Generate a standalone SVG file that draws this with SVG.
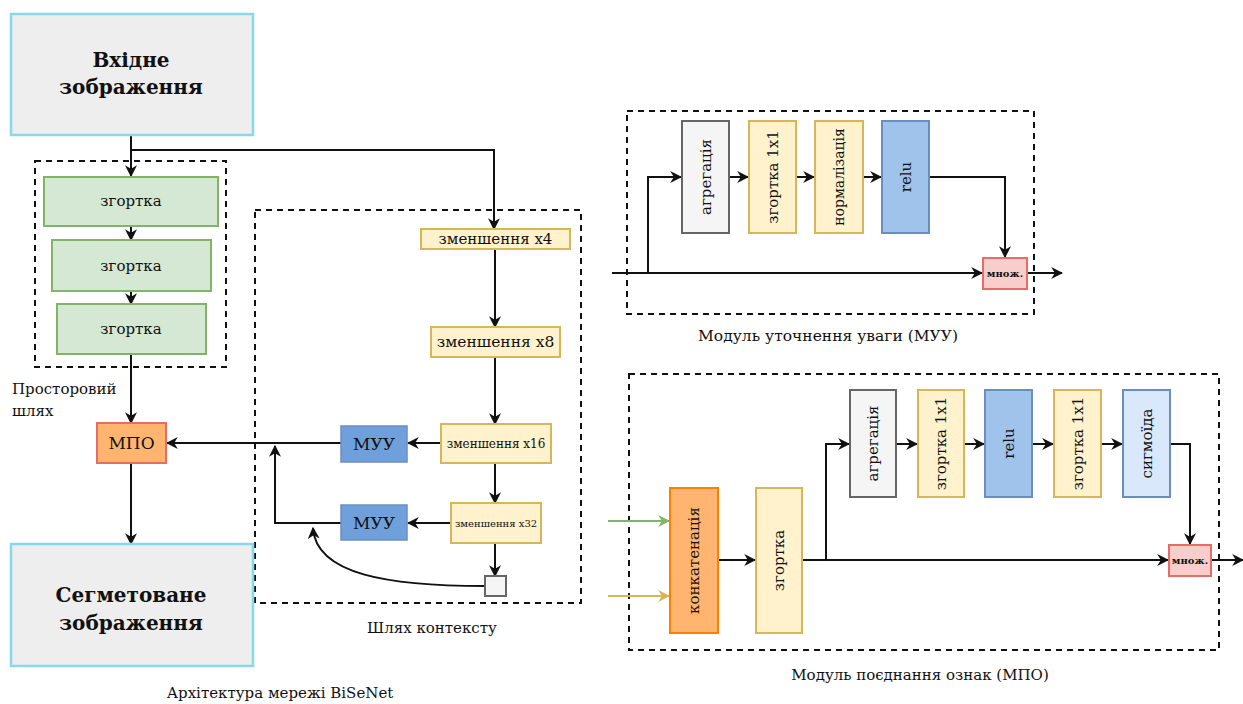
<svg xmlns="http://www.w3.org/2000/svg" width="1243" height="704" viewBox="0 0 1243 704" font-family="'DejaVu Serif','Liberation Serif',serif">
<defs>
<style>
text{font-family:'DejaVu Serif','Liberation Serif',serif;fill:#111;}
.big{font-size:20px;font-weight:bold;text-anchor:middle;}
.lbl{font-size:15px;}
.c{text-anchor:middle;dominant-baseline:central;}
.io{fill:#eeeeee;stroke:#86d8ea;stroke-width:2.5;}
.green{fill:#d5e8d4;stroke:#82b366;stroke-width:2;}
.yel{fill:#fff2cc;stroke:#d6b656;stroke-width:2;}
.grey{fill:#f5f5f5;stroke:#666666;stroke-width:2;}
.blue{fill:#6fa0dc;stroke:#6c8ebf;stroke-width:1.5;}
.lblue{fill:#a0c3ec;stroke:#6c8ebf;stroke-width:2;}
.vlblue{fill:#dae8fc;stroke:#6c8ebf;stroke-width:2;}
.mpo{fill:#ffb570;stroke:#ea6b66;stroke-width:2;}
.orange{fill:#ffb570;stroke:#ff8000;stroke-width:2;}
.mul{fill:#f8cecc;stroke:#ea6b66;stroke-width:2;}
.dash{fill:none;stroke:#111;stroke-width:2;stroke-dasharray:6,5;}
.ln{fill:none;stroke:#111;stroke-width:2;}
</style>
<marker id="ahb" viewBox="0 0 10 10" refX="9" refY="5" markerWidth="12" markerHeight="12" orient="auto" markerUnits="userSpaceOnUse">
<path d="M0,0 L10,5 L0,10 L3,5 z" fill="#111"/>
</marker>
<marker id="ahg" viewBox="0 0 10 10" refX="9" refY="5" markerWidth="12" markerHeight="12" orient="auto" markerUnits="userSpaceOnUse">
<path d="M0,0 L10,5 L0,10 L3,5 z" fill="#82b366"/>
</marker>
<marker id="ahy" viewBox="0 0 10 10" refX="9" refY="5" markerWidth="12" markerHeight="12" orient="auto" markerUnits="userSpaceOnUse">
<path d="M0,0 L10,5 L0,10 L3,5 z" fill="#d6b656"/>
</marker>
</defs>
<rect width="1243" height="704" fill="#ffffff"/>

<g id="containers">
<rect class="dash" x="35" y="161" width="191" height="206"/>
<rect class="dash" x="255" y="210" width="326" height="393"/>
<rect class="dash" x="627" y="111" width="407" height="203"/>
<rect class="dash" x="629" y="374" width="590" height="276"/>
</g>

<g id="connectors">
<path class="ln" d="M131,135 V176" marker-end="url(#ahb)"/>
<path class="ln" d="M131,150 H494 V229" marker-end="url(#ahb)"/>
<path class="ln" d="M131,226 V240" marker-end="url(#ahb)"/>
<path class="ln" d="M131,291 V304" marker-end="url(#ahb)"/>
<path class="ln" d="M131,354 V423" marker-end="url(#ahb)"/>
<path class="ln" d="M131,463 V544" marker-end="url(#ahb)"/>
<path class="ln" d="M341,443 H167" marker-end="url(#ahb)"/>
<path class="ln" d="M495,249 V327" marker-end="url(#ahb)"/>
<path class="ln" d="M495,357 V424" marker-end="url(#ahb)"/>
<path class="ln" d="M441,443 H408" marker-end="url(#ahb)"/>
<path class="ln" d="M495,463 V503" marker-end="url(#ahb)"/>
<path class="ln" d="M451,523 H408" marker-end="url(#ahb)"/>
<path class="ln" d="M341,523 H275 V446" marker-end="url(#ahb)"/>
<path class="ln" d="M495,543 V576" marker-end="url(#ahb)"/>
<path class="ln" d="M485,586 C390,586 316,575 313,528" marker-end="url(#ahb)"/>
<path class="ln" d="M612,273 H982" marker-end="url(#ahb)"/>
<path class="ln" d="M648,273 V177 H681" marker-end="url(#ahb)"/>
<path class="ln" d="M729,177 H748" marker-end="url(#ahb)"/>
<path class="ln" d="M796,177 H814" marker-end="url(#ahb)"/>
<path class="ln" d="M863,177 H881" marker-end="url(#ahb)"/>
<path class="ln" d="M929,177 H1005 V257" marker-end="url(#ahb)"/>
<path class="ln" d="M1027,273 H1062" marker-end="url(#ahb)"/>
<path d="M608,521 H669" fill="none" stroke="#82b366" stroke-width="2" marker-end="url(#ahg)"/>
<path d="M608,596 H669" fill="none" stroke="#d6b656" stroke-width="2" marker-end="url(#ahy)"/>
<path class="ln" d="M718,560 H755" marker-end="url(#ahb)"/>
<path class="ln" d="M802,560 H1168" marker-end="url(#ahb)"/>
<path class="ln" d="M826,560 V444 H849" marker-end="url(#ahb)"/>
<path class="ln" d="M896,444 H917" marker-end="url(#ahb)"/>
<path class="ln" d="M964,444 H984" marker-end="url(#ahb)"/>
<path class="ln" d="M1032,444 H1053" marker-end="url(#ahb)"/>
<path class="ln" d="M1101,444 H1122" marker-end="url(#ahb)"/>
<path class="ln" d="M1170,444 H1190 V544" marker-end="url(#ahb)"/>
<path class="ln" d="M1211,560 H1243" marker-end="url(#ahb)"/>
</g>

<g id="input">
<rect class="io" x="11" y="14" width="242" height="121"/>
<text class="big" x="131" y="67">Вхідне</text>
<text class="big" x="131" y="94">зображення</text>
</g>
<g id="conv1"><rect class="green" x="44" y="177" width="174" height="49"/><text class="lbl c" x="131" y="201">згортка</text></g>
<g id="conv2"><rect class="green" x="52" y="240" width="159" height="51"/><text class="lbl c" x="131" y="266">згортка</text></g>
<g id="conv3"><rect class="green" x="57" y="304" width="149" height="50"/><text class="lbl c" x="131" y="329">згортка</text></g>
<g id="spatial-label">
<text class="lbl" x="12" y="394">Просторовий</text>
<text class="lbl" x="12" y="416">шлях</text>
</g>
<g id="mpo"><rect class="mpo" x="97" y="423" width="69" height="40"/><text class="c" x="131.5" y="443" style="font-size:17px">МПО</text></g>
<g id="output">
<rect class="io" x="11" y="544" width="242" height="122"/>
<text class="big" x="131" y="602">Сегметоване</text>
<text class="big" x="131" y="630">зображення</text>
</g>

<g id="down4"><rect class="yel" x="421" y="229" width="149" height="20"/><text class="c" x="495.5" y="239" style="font-size:15px">зменшення x4</text></g>
<g id="down8"><rect class="yel" x="431" y="327" width="129" height="30"/><text class="c" x="495.5" y="342" style="font-size:15.5px">зменшення x8</text></g>
<g id="down16"><rect class="yel" x="441" y="424" width="110" height="39"/><text class="c" x="496" y="443.5" style="font-size:12px">зменшення x16</text></g>
<g id="down32"><rect class="yel" x="451" y="503" width="90" height="40"/><text class="c" x="496" y="523" style="font-size:10px">зменшення x32</text></g>
<g id="muu1"><rect class="blue" x="341" y="426" width="66" height="36"/><text class="c" x="374" y="444" style="font-size:17px">МУУ</text></g>
<g id="muu2"><rect class="blue" x="341" y="505" width="66" height="35"/><text class="c" x="374" y="523" style="font-size:17px">МУУ</text></g>
<g id="pool"><rect class="grey" x="485" y="576" width="21" height="20"/></g>
<g id="context-label"><text class="lbl" x="432" y="633" text-anchor="middle">Шлях контексту</text></g>
<g id="caption-main"><text class="lbl" x="280" y="698" text-anchor="middle">Архітектура мережі BiSeNet</text></g>

<g id="muu-agg"><rect class="grey" x="682" y="121" width="47" height="112"/><text class="lbl c" transform="translate(706,177) rotate(-90)">агрегація</text></g>
<g id="muu-conv"><rect class="yel" x="749" y="121" width="47" height="112"/><text class="lbl c" transform="translate(772.5,177) rotate(-90)">згортка 1x1</text></g>
<g id="muu-norm"><rect class="yel" x="815" y="121" width="48" height="112"/><text class="lbl c" transform="translate(839,177) rotate(-90)" style="font-size:14px">нормалізація</text></g>
<g id="muu-relu"><rect class="lblue" x="882" y="121" width="47" height="112"/><text class="lbl c" transform="translate(905.5,177) rotate(-90)">relu</text></g>
<g id="muu-mul"><rect class="mul" x="983" y="258" width="44" height="31"/><text class="c" x="1005" y="273.5" style="font-size:10px;font-weight:bold">множ.</text></g>
<g id="muu-caption"><text class="lbl" x="828" y="341" text-anchor="middle" style="font-size:15.5px">Модуль уточнення уваги (МУУ)</text></g>

<g id="mpo-concat"><rect class="orange" x="670" y="488" width="48" height="145"/><text class="lbl c" transform="translate(694,560.5) rotate(-90)">конкатенація</text></g>
<g id="mpo-conv"><rect class="yel" x="756" y="488" width="46" height="145"/><text class="lbl c" transform="translate(779,560.5) rotate(-90)">згортка</text></g>
<g id="mpo-agg"><rect class="grey" x="850" y="390" width="46" height="107"/><text class="lbl c" transform="translate(873,443.5) rotate(-90)">агрегація</text></g>
<g id="mpo-conv1"><rect class="yel" x="918" y="390" width="46" height="107"/><text class="lbl c" transform="translate(941,443.5) rotate(-90)">згортка 1x1</text></g>
<g id="mpo-relu"><rect class="lblue" x="985" y="390" width="47" height="107"/><text class="lbl c" transform="translate(1008.5,443.5) rotate(-90)">relu</text></g>
<g id="mpo-conv2"><rect class="yel" x="1054" y="390" width="47" height="107"/><text class="lbl c" transform="translate(1077.5,443.5) rotate(-90)">згортка 1x1</text></g>
<g id="mpo-sig"><rect class="vlblue" x="1123" y="390" width="47" height="107"/><text class="lbl c" transform="translate(1146.5,443.5) rotate(-90)">сигмоїда</text></g>
<g id="mpo-mul"><rect class="mul" x="1169" y="545" width="42" height="31"/><text class="c" x="1190" y="560.5" style="font-size:10px;font-weight:bold">множ.</text></g>
<g id="mpo-caption"><text class="lbl" x="920" y="680" text-anchor="middle">Модуль поєднання ознак (МПО)</text></g>
</svg>
